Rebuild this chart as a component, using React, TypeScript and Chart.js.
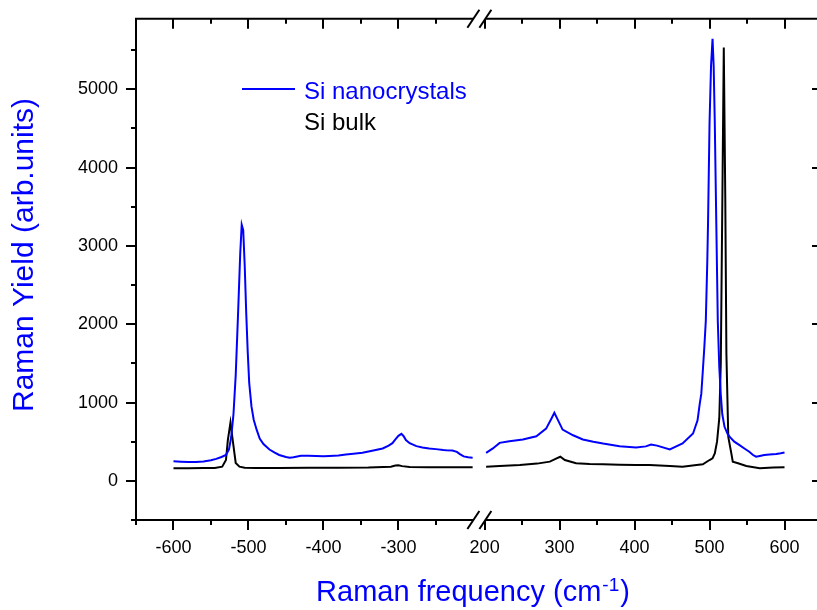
import React, { useEffect, useRef } from 'react';
import { Chart, registerables } from 'chart.js';

Chart.register(...registerables);

// ---- axis definitions (broken x axis) ----
const X_MIN = -650;
const X_MAX = 650;
const BREAK_SHIFT = 385; // right segment drawn shifted left by this amount
const BREAK_AT = -192; // position of the break on the shifted axis
const X_MAJOR_LEFT = [-600, -500, -400, -300];
const X_MINOR_LEFT = [-650, -550, -450, -350, -250];
const X_MAJOR_RIGHT = [200, 300, 400, 500, 600];
const X_MINOR_RIGHT = [250, 350, 450, 550, 650];
const Y_MIN = -500;
const Y_MAX = 5900;
const Y_MAJOR = [0, 1000, 2000, 3000, 4000, 5000];
const Y_MINOR = [-500, 500, 1500, 2500, 3500, 4500, 5500];

// ---- Si nanocrystals, anti-Stokes side ----
const nanoLeftX = [-600, -590, -580, -570, -560, -550, -543, -536, -530, -526, -523, -520, -517, -514, -511, -509, -507, -505, -503, -501, -499, -496, -493, -489, -485, -480, -472, -465, -459, -450, -445, -440, -430, -420, -410, -400, -392, -380, -370, -360, -348, -335, -321, -313, -308, -304, -300, -296, -293, -290, -285, -276, -268, -259, -250, -240, -236, -228, -222, -218, -213, -207, -201];
const nanoLeftY = [250, 245, 242, 240, 248, 262, 280, 305, 330, 400, 560, 850, 1350, 2100, 2900, 3270, 3200, 2750, 2150, 1650, 1250, 950, 780, 650, 540, 470, 400, 360, 330, 305, 295, 300, 320, 320, 318, 315, 318, 325, 335, 345, 358, 385, 414, 450, 481, 530, 575, 600, 570, 520, 480, 443, 425, 414, 405, 395, 392, 388, 370, 342, 312, 300, 295];

// ---- Si bulk, anti-Stokes side ----
const bulkLeftX = [-600, -580, -560, -545, -535, -530, -527.5, -524, -521, -517, -512, -505, -490, -460, -420, -380, -340, -310, -304, -300, -295, -285, -260, -230, -201];
const bulkLeftY = [160, 162, 163, 165, 181, 266, 519, 745, 519, 228, 181, 168, 164, 163, 166, 168, 170, 180, 195, 199, 188, 178, 172, 172, 172];

// ---- Si nanocrystals, Stokes side ----
const nanoRightX = [202, 211, 220, 233, 251, 269, 282, 289, 293, 298, 304, 318, 331, 345, 358, 380, 402, 415, 422, 430, 447, 464, 478, 484, 487, 489, 491, 493, 495, 497, 498, 500, 502, 504, 505.5, 507, 509, 511, 513, 515, 517, 520, 524, 527, 533, 540, 547, 553, 558, 562, 567, 573, 580, 589, 595, 600];
const nanoRightY = [358, 414, 485, 506, 528, 570, 667, 794, 870, 772, 654, 582, 528, 500, 477, 443, 426, 440, 464, 450, 401, 477, 604, 772, 990, 1110, 1400, 1700, 2040, 2800, 3300, 4570, 5300, 5646, 5300, 4570, 3300, 2040, 1450, 1100, 850, 690, 600, 561, 500, 456, 410, 371, 330, 308, 318, 329, 335, 342, 352, 363];

// ---- Si bulk, Stokes side ----
const bulkRightX = [202, 220, 247, 270, 287, 296, 301, 307, 322, 340, 358, 380, 402, 420, 447, 464, 480, 491, 500, 504, 507, 510, 513, 515, 517, 519, 521, 522.5, 525, 529, 531, 538, 549, 567, 585, 600];
const bulkRightY = [181, 190, 203, 220, 245, 287, 308, 266, 224, 215, 211, 207, 203, 203, 190, 181, 200, 211, 266, 287, 350, 500, 800, 1500, 3500, 5532, 3600, 1620, 561, 354, 245, 224, 190, 160, 170, 173];

const SERIES_LABELS = ['Si nanocrystals', 'Si bulk'];
const SERIES_COLORS = ['#0000ff', '#000000'];

const FONT = "'Liberation Sans', Arial, Helvetica, sans-serif";

function buildPoints(lx: number[], ly: number[], rx: number[], ry: number[]) {
  const pts: { x: number; y: number | null }[] = [];
  lx.forEach((x, i) => pts.push({ x, y: ly[i] }));
  pts.push({ x: BREAK_AT, y: null });
  rx.forEach((x, i) => pts.push({ x: x - BREAK_SHIFT, y: ry[i] }));
  return pts;
}

const isXMajor = (v: number) =>
  X_MAJOR_LEFT.includes(v) || X_MAJOR_RIGHT.includes(v + BREAK_SHIFT);
const isYMajor = (v: number) => Y_MAJOR.includes(v);

const framePlugin = {
  id: 'frame',
  afterDraw(chart: any) {
    const { ctx, chartArea: a, scales } = chart;
    const xs = scales.x;
    const ys = scales.y;
    ctx.save();
    ctx.strokeStyle = '#000';
    ctx.lineWidth = 2;
    ctx.lineCap = 'butt';
    ctx.beginPath();
    ctx.rect(a.left, a.top, a.right - a.left, a.bottom - a.top);
    ctx.stroke();

    const seg = (x1: number, y1: number, x2: number, y2: number) => {
      ctx.beginPath();
      ctx.moveTo(x1, y1);
      ctx.lineTo(x2, y2);
      ctx.stroke();
    };

    for (const t of xs.ticks) {
      const px = Math.round(xs.getPixelForValue(t.value));
      const L = isXMajor(t.value) ? 10 : 5;
      seg(px, a.bottom, px, a.bottom + L);
      seg(px, a.top, px, a.top + L);
    }
    for (const t of ys.ticks) {
      const py = Math.round(ys.getPixelForValue(t.value));
      const L = isYMajor(t.value) ? 10 : 5;
      seg(a.left - L, py, a.left, py);
      seg(a.right - L, py, a.right, py);
    }

    // axis break marks
    const bx = xs.getPixelForValue(BREAK_AT);
    for (const yy of [a.top, a.bottom]) {
      const c1 = bx - 6;
      const c2 = bx + 6;
      ctx.fillStyle = '#fff';
      ctx.beginPath();
      ctx.moveTo(c1 - 2, yy + 3);
      ctx.lineTo(c1 + 2, yy - 3);
      ctx.lineTo(c2 + 2, yy - 3);
      ctx.lineTo(c2 - 2, yy + 3);
      ctx.closePath();
      ctx.fill();
      seg(c1 - 6, yy + 9, c1 + 6, yy - 9);
      seg(c2 - 6, yy + 9, c2 + 6, yy - 9);
    }

    // axis titles
    ctx.fillStyle = '#0000ff';
    ctx.textBaseline = 'alphabetic';
    ctx.font = `30px ${FONT}`;
    ctx.save();
    ctx.translate(33, 255);
    ctx.rotate(-Math.PI / 2);
    ctx.textAlign = 'center';
    ctx.fillText('Raman Yield (arb.units)', 0, 0);
    ctx.restore();

    const main = 'Raman frequency (cm';
    const sup = '-1';
    const close = ')';
    ctx.textAlign = 'left';
    ctx.font = `29px ${FONT}`;
    const w1 = ctx.measureText(main).width;
    const w3 = ctx.measureText(close).width;
    ctx.font = `19px ${FONT}`;
    const w2 = ctx.measureText(sup).width;
    const total = w1 + w2 + w3 + 2;
    let tx = 473 - total / 2;
    const base = 601;
    ctx.font = `29px ${FONT}`;
    ctx.fillText(main, tx, base);
    tx += w1 + 1;
    ctx.font = `19px ${FONT}`;
    ctx.fillText(sup, tx, base - 10);
    tx += w2 + 1;
    ctx.font = `29px ${FONT}`;
    ctx.fillText(close, tx, base);

    // legend
    ctx.strokeStyle = SERIES_COLORS[0];
    ctx.lineWidth = 2;
    seg(242, 89, 295, 89);
    ctx.font = `24px ${FONT}`;
    ctx.fillStyle = SERIES_COLORS[0];
    ctx.fillText(SERIES_LABELS[0], 304, 99);
    ctx.fillStyle = SERIES_COLORS[1];
    ctx.fillText(SERIES_LABELS[1], 304, 130);

    ctx.restore();
  },
};

export default function App() {
  const ref = useRef<HTMLCanvasElement | null>(null);

  useEffect(() => {
    if (!ref.current) return;
    const chart = new Chart(ref.current, {
      type: 'line',
      data: {
        datasets: [
          {
            label: SERIES_LABELS[0],
            data: buildPoints(nanoLeftX, nanoLeftY, nanoRightX, nanoRightY) as any,
            borderColor: SERIES_COLORS[0],
            borderWidth: 2,
            pointRadius: 0,
            tension: 0,
            spanGaps: false,
          },
          {
            label: SERIES_LABELS[1],
            data: buildPoints(bulkLeftX, bulkLeftY, bulkRightX, bulkRightY) as any,
            borderColor: SERIES_COLORS[1],
            borderWidth: 2,
            pointRadius: 0,
            tension: 0,
            spanGaps: false,
          },
        ],
      },
      options: {
        responsive: false,
        animation: false,
        devicePixelRatio: 1,
        layout: { padding: { left: 0, top: 15, right: 8, bottom: 0 } },
        plugins: {
          legend: { display: false },
          tooltip: { enabled: false },
          title: { display: false },
        },
        scales: {
          x: {
            type: 'linear',
            min: X_MIN,
            max: X_MAX - BREAK_SHIFT,
            afterBuildTicks: (s: any) => {
              const vals = [
                ...X_MINOR_LEFT,
                ...X_MAJOR_LEFT,
                ...X_MAJOR_RIGHT.map((v) => v - BREAK_SHIFT),
                ...X_MINOR_RIGHT.map((v) => v - BREAK_SHIFT),
              ].sort((p, q) => p - q);
              s.ticks = vals.map((value) => ({ value }));
            },
            afterFit: (s: any) => {
              s.height = 90;
            },
            ticks: {
              autoSkip: false,
              maxRotation: 0,
              padding: 7,
              color: '#000',
              font: { family: FONT, size: 18 },
              callback: (v: any) => {
                const n = Number(v);
                if (X_MAJOR_LEFT.includes(n)) return String(n);
                if (X_MAJOR_RIGHT.includes(n + BREAK_SHIFT)) return String(n + BREAK_SHIFT);
                return '';
              },
            },
            grid: {
              display: true,
              drawOnChartArea: false,
              drawTicks: true,
              tickLength: 10,
              color: 'rgba(0,0,0,0)',
            },
            border: { display: false },
          },
          y: {
            type: 'linear',
            min: Y_MIN,
            max: Y_MAX,
            afterBuildTicks: (s: any) => {
              const vals = [...Y_MINOR, ...Y_MAJOR].sort((p, q) => p - q);
              s.ticks = vals.map((value) => ({ value }));
            },
            afterFit: (s: any) => {
              s.width = 136;
            },
            ticks: {
              autoSkip: false,
              padding: 8,
              color: '#000',
              font: { family: FONT, size: 18 },
              callback: (v: any) => (Y_MAJOR.includes(Number(v)) ? String(v) : ''),
            },
            grid: {
              display: true,
              drawOnChartArea: false,
              drawTicks: true,
              tickLength: 10,
              color: 'rgba(0,0,0,0)',
            },
            border: { display: false },
          },
        },
      },
      plugins: [framePlugin],
    });
    return () => chart.destroy();
  }, []);

  return (
    <div
      style={{
        position: 'fixed',
        left: 0,
        top: 0,
        width: 817,
        height: 610,
        overflow: 'hidden',
        background: '#fff',
      }}
    >
      <canvas ref={ref} width={830} height={610} style={{ display: 'block' }} />
    </div>
  );
}
